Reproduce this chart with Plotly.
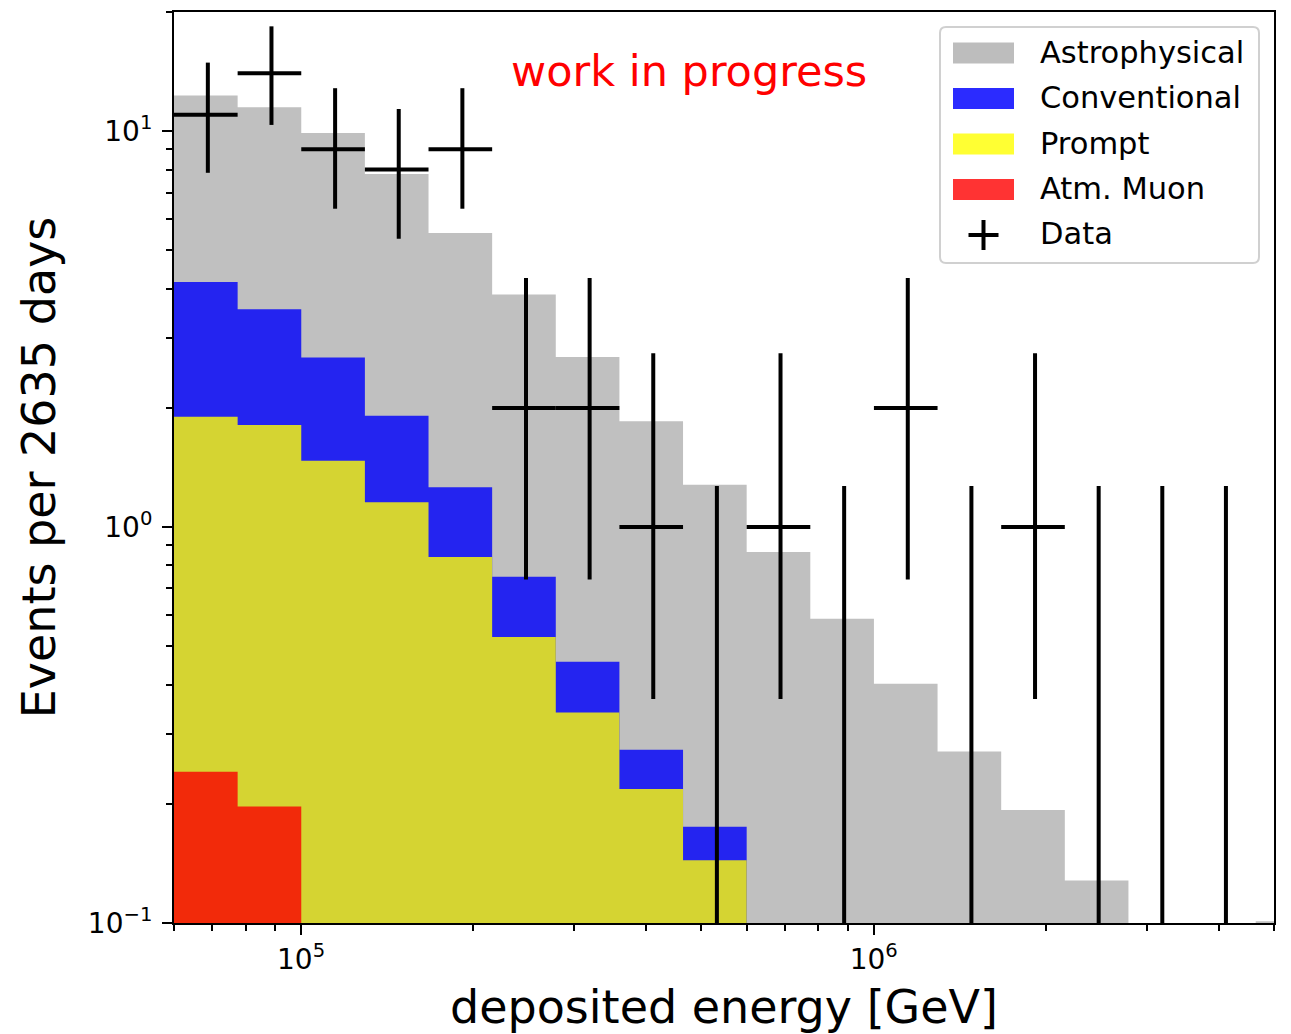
import numpy as np
import plotly.graph_objects as go

# ---------------- data ----------------
# 18 logarithmic bins, 9 per decade, from 6e4 GeV to 6e6 GeV
bin_edges = np.logspace(np.log10(6e4), np.log10(6e6), 19)

# cumulative heights of the stacked histogram (top of each layer), events per bin
# 0 means "not visible in the plotted range"
astro_top = [12.3, 11.5, 9.9, 7.8, 5.53, 3.87, 2.69, 1.85, 1.28, 0.865,
             0.587, 0.402, 0.271, 0.193, 0.128, 0.0, 0.0, 0.101]
conv_top = [4.16, 3.55, 2.68, 1.91, 1.26, 0.749, 0.457, 0.274, 0.175, 0.0,
            0.0, 0.0, 0.0, 0.0, 0.0, 0.0, 0.0, 0.0]
prompt_top = [1.90, 1.81, 1.47, 1.156, 0.840, 0.528, 0.340, 0.218, 0.144, 0.0,
              0.0, 0.0, 0.0, 0.0, 0.0, 0.0, 0.0, 0.0]
muon_top = [0.241, 0.197, 0.0, 0.0, 0.0, 0.0, 0.0, 0.0, 0.0, 0.0,
            0.0, 0.0, 0.0, 0.0, 0.0, 0.0, 0.0, 0.0]

# observed events in the first 17 bins with their 68% intervals
data_counts = [11, 14, 9, 8, 9, 2, 2, 1, 0, 1, 0, 2, 0, 1, 0, 0, 0]
data_lo = [7.85, 10.37, 6.37, 5.35, 6.37, 0.737, 0.737, 0.368, 0, 0.368,
           0, 0.737, 0, 0.368, 0, 0, 0]
data_hi = [14.9, 18.4, 12.84, 11.38, 12.84, 4.26, 4.26, 2.75, 1.27, 2.75,
           1.27, 4.26, 1.27, 2.75, 1.27, 1.27, 1.27]

series_names = ["Astrophysical", "Conventional", "Prompt", "Atm. Muon"]
x_tick_vals = [1e5, 1e6]
x_tick_text = ["10<sup>5</sup>", "10<sup>6</sup>"]
y_tick_vals = [0.1, 1, 10]
y_tick_text = ["10<sup>\u22121</sup>", "10<sup>0</sup>", "10<sup>1</sup>"]

# ---------------- style ----------------
FONT = "DejaVu Sans"
plot_colors = ["#c0c0c0", "#2424f0", "#d5d432", "#f22a0a"]
legend_colors = ["#bdbdbd", "#2b2bff", "#ffff33", "#ff3333"]
Y_FLOOR = 1e-3
X_RANGE = (6e4, 5e6)
Y_RANGE = (0.1, 20)

W, H = 1291, 1034
L, R, T, B = 174, 17, 12, 111
PW, PH = W - L - R, H - T - B


def px(xp):
    return (xp - L) / PW


def py(yp):
    return (H - B - yp) / PH


fig = go.Figure()


def step_polygon(edges, tops):
    xs, ys = [], []
    for i, v in enumerate(tops):
        v = max(v, Y_FLOOR)
        xs += [edges[i], edges[i + 1]]
        ys += [v, v]
    xs += [edges[len(tops)], edges[0], edges[0]]
    ys += [Y_FLOOR, Y_FLOOR, ys[0]]
    return xs, ys


for name, tops, col in zip(series_names,
                           [astro_top, conv_top, prompt_top, muon_top],
                           plot_colors):
    xs, ys = step_polygon(bin_edges, tops)
    fig.add_trace(go.Scatter(x=xs, y=ys, mode="lines", fill="toself",
                             fillcolor=col, line=dict(width=0, color=col),
                             name=name, showlegend=False, hoverinfo="skip"))

# data crosses
lx, ly = [], []
for i, n in enumerate(data_counts):
    lo_e, hi_e = bin_edges[i], bin_edges[i + 1]
    c = 0.5 * (lo_e + hi_e)
    lx += [c, c, None]
    ly += [max(data_lo[i], Y_FLOOR), data_hi[i], None]
    if n > 0:
        lx += [lo_e, hi_e, None]
        ly += [n, n, None]
fig.add_trace(go.Scatter(x=lx, y=ly, mode="lines",
                         line=dict(color="black", width=4),
                         name="Data", showlegend=False, hoverinfo="skip"))

# ---------------- axes ----------------
x_minor = [m * 10 ** d for d in (4, 5, 6) for m in range(2, 10)
           if X_RANGE[0] <= m * 10 ** d <= X_RANGE[1]]
y_minor = [m * 10.0 ** d for d in (-1, 0, 1) for m in range(2, 10)
           if Y_RANGE[0] <= m * 10.0 ** d <= Y_RANGE[1]]

axis_common = dict(showline=True, linecolor="black", linewidth=2, mirror=True,
                   ticks="outside", ticklen=10, tickwidth=2, tickcolor="black",
                   showgrid=False, zeroline=False, automargin=False,
                   tickfont=dict(family=FONT, size=28, color="black"))

fig.update_xaxes(type="log", range=[np.log10(X_RANGE[0]), np.log10(X_RANGE[1])],
                 tickmode="array", tickvals=x_tick_vals, ticktext=x_tick_text,
                 minor=dict(ticks="outside", ticklen=6, tickwidth=1.5,
                            tickcolor="black", tickmode="array", tickvals=x_minor),
                 title=dict(text="deposited energy [GeV]",
                            font=dict(family=FONT, size=46, color="black"),
                            standoff=20),
                 **axis_common)
fig.update_yaxes(type="log", range=[np.log10(Y_RANGE[0]), np.log10(Y_RANGE[1])],
                 tickmode="array", tickvals=y_tick_vals, ticktext=y_tick_text,
                 ticklabelstandoff=4,
                 minor=dict(ticks="outside", ticklen=6, tickwidth=1.5,
                            tickcolor="black", tickmode="array", tickvals=y_minor),
                 title=dict(text="Events per 2635 days",
                            font=dict(family=FONT, size=46, color="black"),
                            standoff=18),
                 **axis_common)

# ---------------- annotations / manual legend ----------------
shapes = []
annotations = [dict(text="work in progress", xref="paper", yref="paper",
                    x=px(689), y=py(71), xanchor="center", yanchor="middle",
                    showarrow=False,
                    font=dict(family=FONT, size=43, color="red"))]

# legend frame with rounded corners
x0, x1, y0, y1, r = 940, 1259, 27, 263, 6
path = (f"M {px(x0 + r)},{py(y0)} L {px(x1 - r)},{py(y0)} "
        f"Q {px(x1)},{py(y0)} {px(x1)},{py(y0 + r)} "
        f"L {px(x1)},{py(y1 - r)} Q {px(x1)},{py(y1)} {px(x1 - r)},{py(y1)} "
        f"L {px(x0 + r)},{py(y1)} Q {px(x0)},{py(y1)} {px(x0)},{py(y1 - r)} "
        f"L {px(x0)},{py(y0 + r)} Q {px(x0)},{py(y0)} {px(x0 + r)},{py(y0)} Z")
shapes.append(dict(type="path", xref="paper", yref="paper", path=path,
                   fillcolor="rgba(255,255,255,0.85)",
                   line=dict(color="#d0d0d0", width=2), layer="above"))

row_y = [53, 98.5, 144, 189.5, 235]
for name, col, yc in zip(series_names, legend_colors, row_y):
    shapes.append(dict(type="rect", xref="paper", yref="paper",
                       x0=px(953), x1=px(1014), y0=py(yc - 10.5), y1=py(yc + 10.5),
                       fillcolor=col, line=dict(width=0), layer="above"))
labels = series_names + ["Data"]
for name, yc in zip(labels, row_y):
    annotations.append(dict(text=name, xref="paper", yref="paper",
                            x=px(1038), y=py(yc - 1), xanchor="left", yanchor="middle",
                            showarrow=False,
                            font=dict(family=FONT, size=30.5, color="black")))
# data marker in the legend
cx, cy, hl = 983.5, row_y[4], 15
shapes.append(dict(type="line", xref="paper", yref="paper",
                   x0=px(cx - hl), x1=px(cx + hl), y0=py(cy), y1=py(cy),
                   line=dict(color="black", width=4), layer="above"))
shapes.append(dict(type="line", xref="paper", yref="paper",
                   x0=px(cx), x1=px(cx), y0=py(cy - hl), y1=py(cy + hl),
                   line=dict(color="black", width=4), layer="above"))

fig.update_layout(width=W, height=H, margin=dict(l=L, r=R, t=T, b=B),
                  paper_bgcolor="white", plot_bgcolor="white",
                  showlegend=False, shapes=shapes, annotations=annotations,
                  font=dict(family=FONT, color="black"))

fig.write_html("out.html")
